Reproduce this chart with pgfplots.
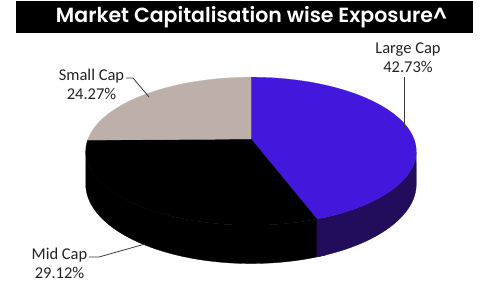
\documentclass[border=0pt]{standalone}
\usepackage{pgfplots}
\pgfplotsset{compat=1.18}
\usepackage{pgfplotstable}
\usepackage{fontspec}
\setmainfont{Carlito}
\newfontfamily\titlefont{Poppins}[UprightFont=* SemiBold]
\definecolor{largecol}{RGB}{67,24,220}
\definecolor{largeside}{RGB}{33,13,92}
\definecolor{midcol}{RGB}{0,0,0}
\definecolor{smallcol}{RGB}{189,176,171}
\definecolor{labelcol}{RGB}{35,35,35}
\definecolor{leadcol}{RGB}{60,60,60}
\begin{document}
\begin{tikzpicture}
\pgfplotstableread{
cat value
Large 42.73
Mid 29.12
Small 24.27
}\piedata
\pgfplotstablegetelem{0}{value}\of\piedata\let\vL\pgfplotsretval
\pgfplotstablegetelem{1}{value}\of\piedata\let\vM\pgfplotsretval
\pgfplotstablegetelem{2}{value}\of\piedata\let\vS\pgfplotsretval
\pgfmathsetmacro\tot{\vL+\vM+\vS}
\pgfmathsetmacro\aL{90-360*\vL/\tot}
\pgfmathsetmacro\aM{\aL-360*\vM/\tot}
\pgfmathsetmacro\aS{90+360*\vS/\tot}
\pgfmathsetmacro\aLx{\aL+3}
\pgfmathsetmacro\sil{asin(0.165)}
\pgfmathsetmacro\silL{-\sil}
\pgfmathsetmacro\silR{-180+\sil}
\begin{axis}[at={(0,0)}, anchor=south west, scale only axis,
  width=489bp, height=282bp, xmin=0, xmax=489, ymin=0, ymax=282,
  y dir=reverse, axis lines=none, xtick=\empty, ytick=\empty, clip=false,
  declare function={
    px(\pp)=251+163*cos(\pp)/(1+0.165*sin(\pp));
    py(\pp)=139-72*sin(\pp)/(1+0.165*sin(\pp));
    pd(\pp)=32/(1+0.165*sin(\pp));
    phi(\ps,\pa,\pb)=(\ps<=1) ? (\pa+\ps*(\pb-\pa)) : (\pb-(\ps-1)*(\pb-\pa));
  }]
\path (axis cs:0,0) rectangle (axis cs:489,282);
% sides
\addplot[fill=midcol, draw=midcol, line width=0.3pt, variable=\s, domain=0:2, samples=161]
  ({px(phi(\s,\silR,\aLx))}, {py(phi(\s,\silR,\aLx))+(\s<=1)*pd(phi(\s,\silR,\aLx))}) -- cycle;
\addplot[fill=largeside, draw=largeside, line width=0.3pt, variable=\s, domain=0:2, samples=161]
  ({px(phi(\s,\aL,\silL))}, {py(phi(\s,\aL,\silL))+(\s<=1)*pd(phi(\s,\aL,\silL))}) -- cycle;
% tops
\addplot[fill=largecol, draw=largecol, line width=0.2pt, variable=\t, domain=\aL:90, samples=90]
  ({px(\t)}, {py(\t)}) -- (axis cs:251,139) -- cycle;
\addplot[fill=midcol, draw=midcol, line width=0.2pt, variable=\t, domain=\aM:\aL, samples=90]
  ({px(\t)}, {py(\t)}) -- (axis cs:251,139) -- cycle;
\addplot[fill=smallcol, draw=smallcol, line width=0.2pt, variable=\t, domain=90:\aS, samples=90]
  ({px(\t)}, {py(\t)}) -- (axis cs:251,139) -- cycle;
% leaders
\draw[leadcol, line width=0.8pt] (axis cs:404,77) -- (axis cs:404,128);
\draw[leadcol, line width=0.8pt] (axis cs:126,78) -- (axis cs:133,78) -- (axis cs:149,97);
\draw[leadcol, line width=0.8pt] (axis cs:89,257) -- (axis cs:99,257) -- (axis cs:145,244);
% labels
\node[labelcol, align=center, font=\fontsize{16.5bp}{19bp}\selectfont] at (axis cs:408,57.5) {Large Cap\\42.73\%};
\node[labelcol, align=center, font=\fontsize{16.5bp}{19bp}\selectfont] at (axis cs:91.5,84) {Small Cap\\24.27\%};
\node[labelcol, align=center, font=\fontsize{16.5bp}{19bp}\selectfont] at (axis cs:59.5,263) {Mid Cap\\29.12\%};
% title
\fill[black] (axis cs:16,1) rectangle (axis cs:473,33);
\node[white, font=\titlefont\fontsize{20.5bp}{24bp}\selectfont] at (axis cs:251.5,17) {Market Capitalisation wise Exposure\textasciicircum};
\end{axis}
\end{tikzpicture}
\end{document}
